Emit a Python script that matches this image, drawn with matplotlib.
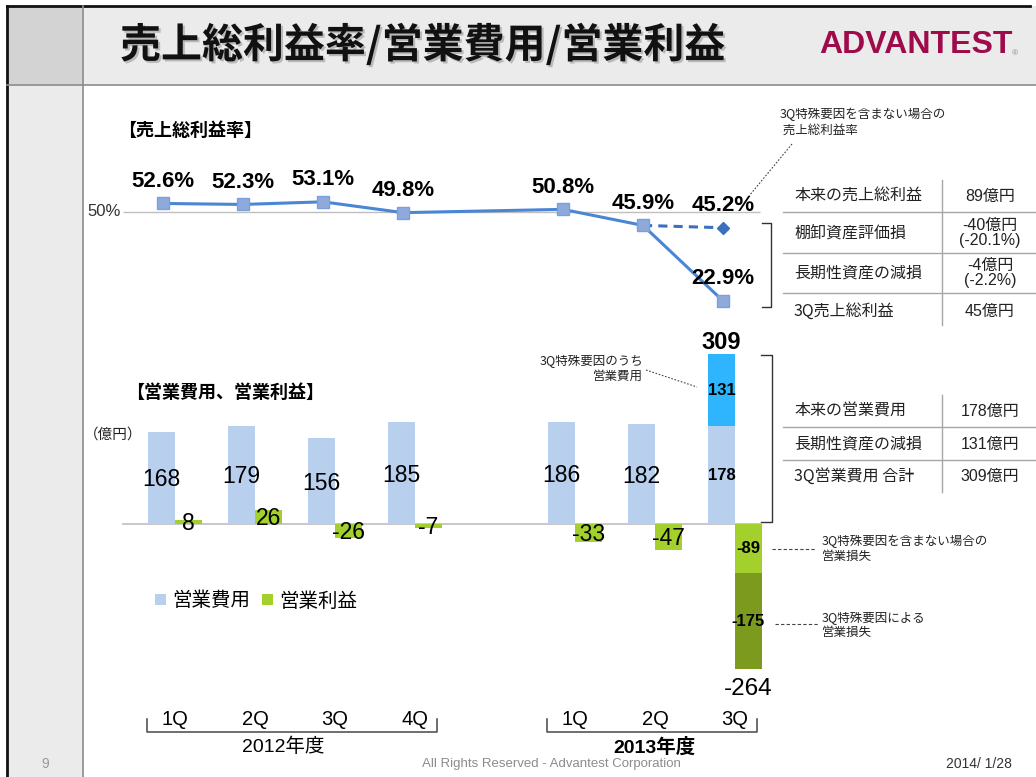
import numpy as np
import matplotlib
matplotlib.use("Agg")
import matplotlib.pyplot as plt
import matplotlib.patches as mpatches
import matplotlib.patheffects as pe

plt.rcParams['font.family'] = ['Liberation Sans', 'Noto Sans CJK JP', 'DejaVu Sans']
JP = ['Noto Sans CJK JP', 'DejaVu Sans']

# ---------------- data ----------------
quarters = ['1Q', '2Q', '3Q', '4Q', '1Q', '2Q', '3Q']
fiscal_years = ['2012年度', '2012年度', '2012年度', '2012年度', '2013年度', '2013年度', '2013年度']
gross_margin = [52.6, 52.3, 53.1, 49.8, 50.8, 45.9, 22.9]      # %
gross_margin_excl_3q = 45.2                                     # % (3Q excl. special factors)
op_expense = [168, 179, 156, 185, 186, 182, 178]                # 億円
op_expense_special_3q = 131
op_income = [8, 26, -26, -7, -33, -47, -89]                     # 億円
op_income_special_3q = -175

gm_table_labels = ['本来の売上総利益', '棚卸資産評価損', '長期性資産の減損', '3Q売上総利益']
gm_table_values = ['89億円', '-40億円\n(-20.1%)', '-4億円\n(-2.2%)', '45億円']
ex_table_labels = ['本来の営業費用', '長期性資産の減損', '3Q営業費用 合計']
ex_table_values = ['178億円', '131億円', '309億円']

# x slots: a gap between the two fiscal years
xpos = np.array([i + (1 if fiscal_years[i] != fiscal_years[0] else 0) for i in range(len(quarters))])

W, H = 1036, 777
fig = plt.figure(figsize=(W / 100, H / 100), dpi=100)

# ---------------- slide background (pixel coords) ----------------
bg = fig.add_axes([0, 0, 1, 1])
bg.set_xlim(0, W)
bg.set_ylim(H, 0)
bg.axis('off')
bg.add_patch(mpatches.Rectangle((7, 6), W - 7, 79, color='#ebebeb', lw=0))
bg.add_patch(mpatches.Rectangle((7, 85), 76, H - 85, color='#ebebeb', lw=0))
bg.add_patch(mpatches.Rectangle((7, 6), 76, 79, color='#d3d3d3', lw=0))
bg.plot([7, 1030], [6, 6], color='#111111', lw=2)
bg.plot([7, 7], [6, H], color='#111111', lw=2)
bg.plot([83, 83], [6, H], color='#8c8c8c', lw=1.2)
bg.plot([7, W], [85, 85], color='#8c8c8c', lw=1.2)

bg.text(120, 45, '売上総利益率/営業費用/営業利益', family=JP, fontsize=29.5, fontweight='bold',
        va='center', ha='left', color='#111111',
        path_effects=[pe.SimplePatchShadow(offset=(1.5, -1.5), shadow_rgbFace='#888888', alpha=0.5), pe.Normal()])
bg.text(916, 45, 'ADVANTEST', family=['Liberation Sans'], fontsize=23, fontweight='bold',
        color='#9e0a4a', ha='center', va='center')
bg.text(1015, 54, '®', fontsize=6, color='#888888', ha='center', va='center')

bg.text(118, 130, '【売上総利益率】', family=JP, fontsize=13, fontweight='bold', va='center')
bg.text(126, 392, '【営業費用、営業利益】', family=JP, fontsize=13, fontweight='bold', va='center')
bg.text(84, 435, '（億円）', family=JP, fontsize=10.5, va='center', color='#222222')

# top-right annotation
bg.text(780, 122, '3Q特殊要因を含まない場合の\n 売上総利益率', family=JP, fontsize=9,
        va='center', ha='left', color='#222222', linespacing=1.25)
bg.plot([792, 749], [144, 196], color='#444444', lw=0.8, ls=(0, (1.5, 1.5)))

# gross margin table
for y in [212, 253, 293]:
    bg.plot([783, W], [y, y], color='#a6a6a6', lw=1)
bg.plot([942, 942], [180, 325], color='#a6a6a6', lw=1)
for lab, val, y in zip(gm_table_labels, gm_table_values, [196, 233, 273, 311]):
    bg.text(794, y, lab, family=JP, fontsize=11.5, va='center', ha='left', color='#222222')
    bg.text(990, y, val, fontsize=11.5, va='center', ha='center', color='#222222',
            linespacing=1.0, multialignment='center')
bg.plot([762, 771, 771, 762], [223, 223, 307, 307], color='#333333', lw=1)

# expense table
for y in [427, 460]:
    bg.plot([783, W], [y, y], color='#a6a6a6', lw=1)
bg.plot([942, 942], [395, 492], color='#a6a6a6', lw=1)
for lab, val, y in zip(ex_table_labels, ex_table_values, [411, 444, 476]):
    bg.text(794, y, lab, family=JP, fontsize=11.5, va='center', ha='left', color='#222222')
    bg.text(990, y, val, fontsize=11.5, va='center', ha='center', color='#222222')
bg.plot([761, 772, 772, 761], [355, 355, 522, 522], color='#333333', lw=1)

# bar annotations
bg.text(643, 369, '3Q特殊要因のうち\n営業費用', family=JP, fontsize=9, va='center', ha='right',
        color='#222222', linespacing=1.25, multialignment='right')
bg.plot([646, 697], [370, 387], color='#444444', lw=0.8, ls=(0, (1.5, 1.5)))
bg.text(822, 549, '3Q特殊要因を含まない場合の\n営業損失', family=JP, fontsize=9, va='center', ha='left',
        color='#222222', linespacing=1.25)
bg.plot([772, 816], [549, 549], color='#444444', lw=0.8, ls=(0, (3, 2)))
bg.text(822, 625, '3Q特殊要因による\n営業損失', family=JP, fontsize=9, va='center', ha='left',
        color='#222222', linespacing=1.25)
bg.plot([775, 818], [624, 624], color='#444444', lw=0.8, ls=(0, (3, 2)))

# footer
bg.text(45, 764, '9', fontsize=10, color='#999999', ha='center', va='center')
bg.text(551, 764, 'All Rights Reserved - Advantest Corporation', fontsize=9.5, color='#8c8c8c',
        ha='center', va='center')
bg.text(1012, 764, '2014/ 1/28', fontsize=10, color='#333333', ha='right', va='center')

# ---------------- gross margin line chart ----------------
ax1 = fig.add_axes([100 / W, 1 - 320 / H, 680 / W, 160 / H])
ax1.set_xlim(-0.7875, 7.7125)
ax1.set_ylim(17.07, 65.85)
ax1.axis('off')
ax1.patch.set_alpha(0)
ax1.hlines(50, -0.5, 7.46, color='#bfbfbf', lw=1, zorder=1)
ax1.text(-0.53, 50, '50%', fontsize=12, ha='right', va='center', color='#333333')
ax1.plot(xpos, gross_margin, color='#4a86d6', lw=2.2, marker='s', ms=8,
         mfc='#8eaadb', mec='#7aa0dc', mew=1, zorder=3)
ax1.plot([xpos[-2], xpos[-1]], [gross_margin[-2], gross_margin_excl_3q], color='#3a70c0', lw=2.2,
         ls=(0, (3, 2)), marker='D', ms=6, markevery=[1], zorder=2)
for x, v in zip(xpos, gross_margin):
    ax1.annotate(f'{v:.1f}%', (x, v), xytext=(0, 16), textcoords='offset points',
                 ha='center', va='center', fontsize=16, fontweight='bold', annotation_clip=False)
ax1.annotate(f'{gross_margin_excl_3q:.1f}%', (xpos[-1], gross_margin_excl_3q), xytext=(0, 16),
             textcoords='offset points', ha='center', va='center', fontsize=16, fontweight='bold',
             annotation_clip=False)

# ---------------- expense / income bar chart ----------------
ax2 = fig.add_axes([100 / W, 1 - 760 / H, 680 / W, 430 / H])
ax2.set_xlim(-0.9375, 7.5625)
ax2.set_ylim(-429.1, 352.7)
ax2.axis('off')
ax2.patch.set_alpha(0)

bw = 0.3375
c_exp, c_exp_sp = '#b8cfee', '#2fb5fd'
c_inc, c_inc_sp = '#a3d02c', '#7b9a1e'
ax2.hlines(0, -0.6625, 7.34, color='#bfbfbf', lw=1.2, zorder=1)
b_exp = ax2.bar(xpos - bw / 2, op_expense, width=bw, color=c_exp, zorder=2, label='営業費用')
ax2.bar(xpos[-1] - bw / 2, op_expense_special_3q, bottom=op_expense[-1], width=bw, color=c_exp_sp, zorder=2)
b_inc = ax2.bar(xpos + bw / 2, op_income, width=bw, color=c_inc, zorder=2, label='営業利益')
ax2.bar(xpos[-1] + bw / 2, op_income_special_3q, bottom=op_income[-1], width=bw, color=c_inc_sp, zorder=2)

for i, (x, v) in enumerate(zip(xpos, op_expense)):
    if i < len(xpos) - 1:
        ax2.text(x - bw / 2, v / 2 - 4, f'{v}', fontsize=16.5, ha='center', va='center', zorder=4)
    else:
        ax2.text(x - bw / 2, v / 2, f'{v}', fontsize=12, fontweight='bold', ha='center', va='center', zorder=4)
for i, (x, v) in enumerate(zip(xpos, op_income)):
    if i < len(xpos) - 1:
        ax2.text(x + bw / 2, v / 2 - 3, f'{v}', fontsize=16.5, ha='center', va='center', zorder=4)
    else:
        ax2.text(x + bw / 2, v / 2, f'{v}', fontsize=12, fontweight='bold', ha='center', va='center', zorder=4)

tot_exp = op_expense[-1] + op_expense_special_3q
tot_inc = op_income[-1] + op_income_special_3q
ax2.text(xpos[-1] - bw / 2, op_expense[-1] + op_expense_special_3q / 2, f'{op_expense_special_3q}',
         fontsize=12, fontweight='bold', ha='center', va='center', zorder=4)
ax2.text(xpos[-1] + bw / 2, op_income[-1] + op_income_special_3q / 2, f'{op_income_special_3q}',
         fontsize=12, fontweight='bold', ha='center', va='center', zorder=4)
ax2.annotate(f'{tot_exp}', (xpos[-1] - bw / 2, tot_exp), xytext=(0, 8), textcoords='offset points',
             ha='center', va='center', fontsize=17, fontweight='bold')
ax2.annotate(f'{tot_inc}', (xpos[-1] + bw / 2, tot_inc), xytext=(0, -14), textcoords='offset points',
             ha='center', va='center', fontsize=17.5)

# category axis with fiscal-year brackets
def py(p):
    return (524 - p) / 0.55

for x, q in zip(xpos, quarters):
    ax2.text(x, py(720), q, fontsize=14.5, ha='center', va='center')
for fy, bold in [('2012年度', False), ('2013年度', True)]:
    xs = xpos[[i for i, f in enumerate(fiscal_years) if f == fy]]
    l, r = xs.min() - 0.35, xs.max() + 0.28
    ax2.plot([l, l, r, r], [py(719), py(732), py(732), py(719)], color='#555555', lw=1.2, clip_on=False)
    ax2.text((xs.min() + xs.max()) / 2 - (0.15 if not bold else 0), py(747), fy, family=['Liberation Sans', 'Noto Sans CJK JP'],
             fontsize=14, ha='center', va='center', fontweight='bold' if bold else 'normal')

fig.legend(handles=[b_exp, b_inc], labels=['営業費用', '営業利益'], loc='center left',
           bbox_to_anchor=(155 / W, 1 - 601 / H), frameon=False, ncol=2,
           handlelength=0.55, handleheight=0.55, handletextpad=0.35, columnspacing=0.6,
           borderpad=0, borderaxespad=0, prop={'family': JP, 'size': 14})

fig.savefig('out.png', dpi=100)
